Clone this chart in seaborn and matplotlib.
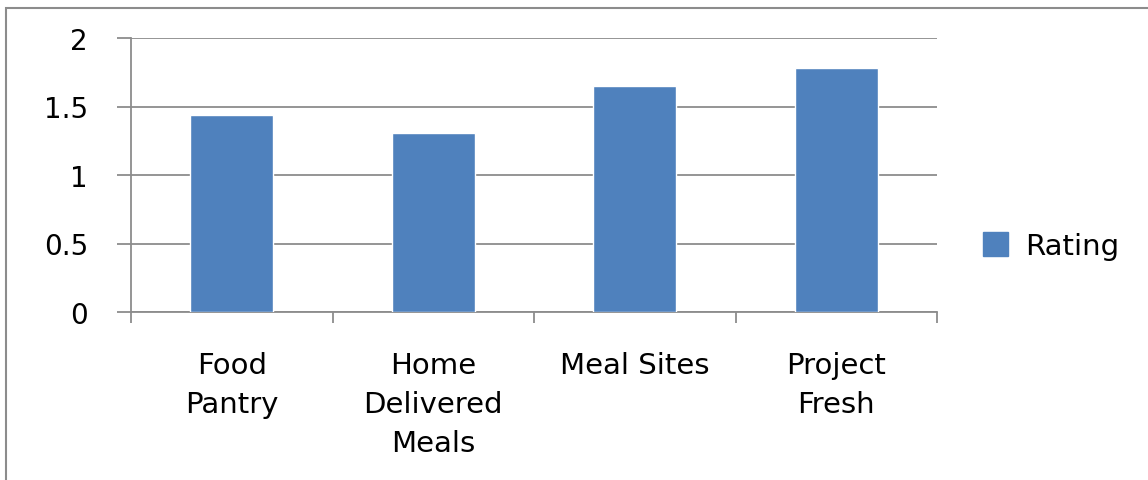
import matplotlib
matplotlib.use("Agg")
import matplotlib.pyplot as plt
import matplotlib.patches as mpatches
import numpy as np
import pandas as pd
import seaborn as sns

# 데이터
categories = ["Food\nPantry", "Home\nDelivered\nMeals", "Meal Sites", "Project\nFresh"]
ratings = [1.44, 1.31, 1.65, 1.78]
series_name = "Rating"
y_ticks = [0, 0.5, 1, 1.5, 2]
y_labels = ["0", "0.5", "1", "1.5", "2"]

bar_color = "#4F81BD"
grid_color = "#8C8C8C"

sns.set_style("white")
plt.rcParams["font.family"] = ["DejaVu Sans"]
plt.rcParams["text.color"] = "black"
plt.rcParams["xtick.labelcolor"] = "black"
plt.rcParams["ytick.labelcolor"] = "black"

df = pd.DataFrame({"category": categories, "rating": ratings})

fig = plt.figure(figsize=(11.48, 4.81), dpi=100)
ax = fig.add_axes([131 / 1148, 1 - 313 / 481, (937 - 131) / 1148, (313 - 39) / 481])

sns.barplot(data=df, x="category", y="rating", color=bar_color, width=0.41,
            saturation=1, ax=ax, zorder=3)

ax.set_ylim(0, 2)
ax.set_xlim(-0.5, len(categories) - 0.5)
ax.set_yticks(y_ticks)
ax.set_yticklabels(y_labels)
ax.set_xlabel("")
ax.set_ylabel("")

# 격자선
ax.yaxis.grid(True, color=grid_color, linewidth=1.3, zorder=0)
ax.set_axisbelow(True)
for s in ["top", "right"]:
    ax.spines[s].set_visible(False)
for s in ["left", "bottom"]:
    ax.spines[s].set_color(grid_color)
    ax.spines[s].set_linewidth(1.3)

ax.tick_params(axis="y", length=10, width=1.3, color=grid_color, pad=21,
               labelsize=20, left=True, labelcolor="black")
# 카테고리 경계에 눈금
ax.set_xticks(np.arange(-0.5, len(categories)), minor=True)
ax.tick_params(axis="x", which="minor", length=8, width=1.3, color=grid_color, bottom=True)
ax.tick_params(axis="x", which="major", length=0, pad=28, labelsize=21, labelcolor="black")
for lbl in ax.get_xticklabels():
    lbl.set_linespacing(1.5)
    lbl.set_verticalalignment("top")

handle = mpatches.Patch(color=bar_color, label=series_name)
leg = fig.legend(handles=[handle], loc="center left", bbox_to_anchor=(957 / 1148, 1 - 247 / 481),
                 frameon=False, fontsize=21, handlelength=0.85, handleheight=0.85,
                 handletextpad=0.6)
for t in leg.get_texts():
    t.set_color("black")

# 바깥 테두리
border = mpatches.Rectangle((6 / 1148, -0.2), 1.2, 1.2 - 9 / 481,
                            transform=fig.transFigure, fill=False,
                            edgecolor=grid_color, linewidth=1.5, clip_on=False)
fig.patches.append(border)

fig.savefig("out.png", dpi=100)
